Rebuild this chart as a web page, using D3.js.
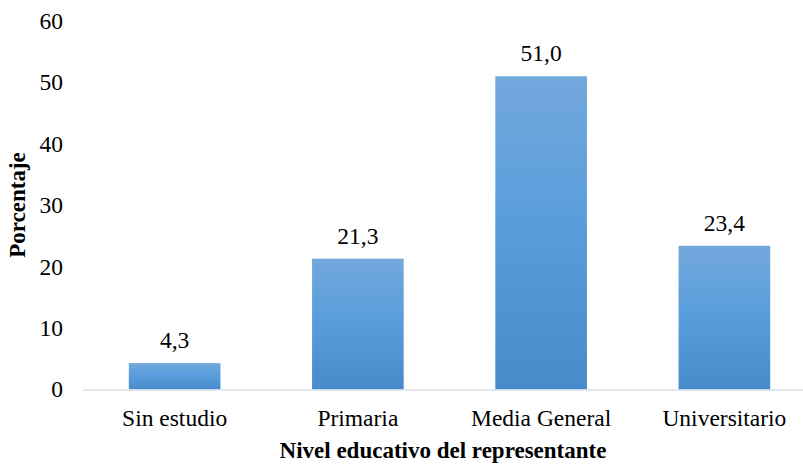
<!DOCTYPE html>
<html>
<head>
<meta charset="utf-8">
<script src="https://cdn.jsdelivr.net/npm/d3@7"></script>
<style>
  html, body { margin: 0; padding: 0; background: #fff; }
</style>
</head>
<body>
<svg id="chart" width="803" height="465"></svg>
<script>
// Nivel educativo del representante (%)
const categories = ["Sin estudio", "Primaria", "Media General", "Universitario"];
const values = [4.3, 21.3, 51.0, 23.4];
const yTicks = [0, 10, 20, 30, 40, 50, 60];

const FONT = "'Liberation Serif', 'DejaVu Serif', serif";
const svg = d3.select("#chart")
  .attr("font-family", FONT)
  .style("font-family", FONT);
const plotLeft = 83, plotRight = 816, plotTop = 21, plotBottom = 389.5;

const x = d3.scaleBand().domain(categories).range([plotLeft, plotRight]).paddingInner(0.5).paddingOuter(0.25);
const y = d3.scaleLinear().domain([0, 60]).range([plotBottom, plotTop]);

const defs = svg.append("defs");
const grad = defs.append("linearGradient").attr("id", "barFill")
  .attr("x1", 0).attr("y1", 0).attr("x2", 0).attr("y2", 1);
grad.append("stop").attr("offset", "0%").attr("stop-color", "#72a8dc");
grad.append("stop").attr("offset", "50%").attr("stop-color", "#589cdc");
grad.append("stop").attr("offset", "100%").attr("stop-color", "#478bcb");

// y tick labels
svg.append("g").selectAll("text").data(yTicks).join("text")
  .attr("x", 63).attr("y", d => y(d)).attr("dy", "0.34em")
  .attr("text-anchor", "end").attr("font-size", 23.5)
  .text(d => d);

// bars
svg.append("g").selectAll("rect").data(values).join("rect")
  .attr("x", (d, i) => x(categories[i]))
  .attr("y", d => y(d))
  .attr("width", x.bandwidth())
  .attr("height", d => y(0) - y(d))
  .attr("fill", "url(#barFill)");

// baseline
svg.append("line").attr("x1", plotLeft).attr("x2", 803)
  .attr("y1", plotBottom + 0.5).attr("y2", plotBottom + 0.5)
  .attr("stroke", "#d9dee8").attr("stroke-width", 1.5);

// value labels
svg.append("g").selectAll("text").data(values).join("text")
  .attr("x", (d, i) => x(categories[i]) + x.bandwidth() / 2)
  .attr("y", d => y(d) - 15)
  .attr("text-anchor", "middle").attr("font-size", 23.5)
  .text(d => d3.format(".1f")(d).replace(".", ","));

// category labels
svg.append("g").selectAll("text").data(categories).join("text")
  .attr("x", d => x(d) + x.bandwidth() / 2)
  .attr("y", 426)
  .attr("text-anchor", "middle").attr("font-size", 23.5)
  .text(d => d);

// axis titles
svg.append("text").attr("x", 443).attr("y", 458)
  .attr("text-anchor", "middle").attr("font-size", 23).attr("font-weight", "bold")
  .text("Nivel educativo del representante");
svg.append("text").attr("transform", "translate(25,205) rotate(-90)")
  .attr("text-anchor", "middle").attr("font-size", 23).attr("font-weight", "bold")
  .text("Porcentaje");
</script>
</body>
</html>
